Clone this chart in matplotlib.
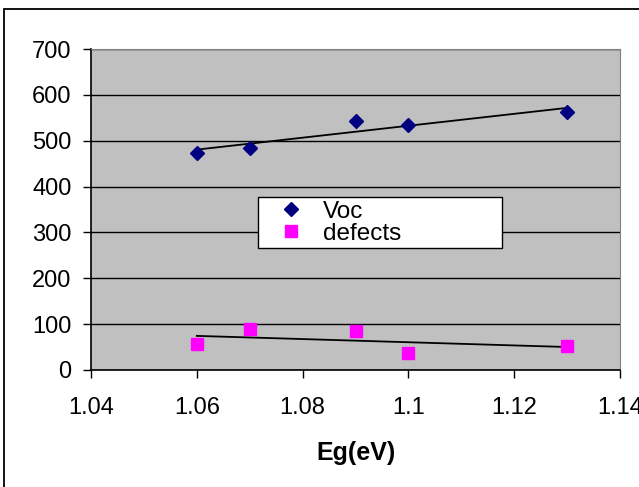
import matplotlib.pyplot as plt
import numpy as np
from matplotlib.patches import Rectangle

plt.rcParams['font.family'] = ['Liberation Sans', 'DejaVu Sans']

# Data
eg = [1.06, 1.07, 1.09, 1.10, 1.13]
voc = [474, 485, 543, 534, 562]
defects = [57, 89, 85, 37, 52]

fig = plt.figure(figsize=(6.39, 4.87), dpi=100)
ax = fig.add_axes([91 / 639, 1 - 370 / 487, 529 / 639, 321 / 487])
ax.set_facecolor('#C0C0C0')

# outer chart border (runs off the image to the right/bottom)
fig.patches.append(Rectangle((4 / 639, -0.1), 1.2, 1 - 9 / 487 + 0.1,
                             transform=fig.transFigure, fill=False,
                             edgecolor='black', linewidth=1.3))

ax.plot(eg, voc, linestyle='none', marker='D', color='#000080',
        markersize=7.5, label='Voc', zorder=3)
ax.plot(eg, defects, linestyle='none', marker='s', color='#FF00FF',
        markersize=8, label='defects', zorder=3)

# linear trend lines
xs = np.array([min(eg), max(eg)])
for y in (voc, defects):
    k, b = np.polyfit(eg, y, 1)
    ax.plot(xs, k * xs + b, color='black', linewidth=1.3, zorder=2)

ax.set_xlim(1.04, 1.14)
ax.set_ylim(0, 700)
ax.set_xticks([1.04, 1.06, 1.08, 1.1, 1.12, 1.14])
ax.set_xticklabels(['1.04', '1.06', '1.08', '1.1', '1.12', '1.14'])
ax.set_yticks(range(0, 701, 100))
ax.yaxis.grid(True, color='black', linewidth=1)
ax.set_axisbelow(True)
ax.tick_params(direction='out', length=5.5, width=1, labelsize=17)
ax.tick_params(axis='y', pad=8.5)
ax.tick_params(axis='x', pad=14)

for s in ('top', 'right'):
    ax.spines[s].set_color('#808080')
for s in ('left', 'bottom'):
    ax.spines[s].set_linewidth(1.2)

ax.set_xlabel('Eg(eV)', fontsize=18, fontweight='bold', labelpad=16)

leg = ax.legend(loc='upper left', bbox_to_anchor=(0.316, 0.374, 0.461, 0.165),
                mode='expand', fontsize=17.5, frameon=True, fancybox=False,
                edgecolor='black', framealpha=1, borderpad=0.15,
                labelspacing=0.0, handletextpad=0.1, handlelength=2.4,
                borderaxespad=0)
leg.get_frame().set_linewidth(1)

fig.savefig('out.png', dpi=100)
